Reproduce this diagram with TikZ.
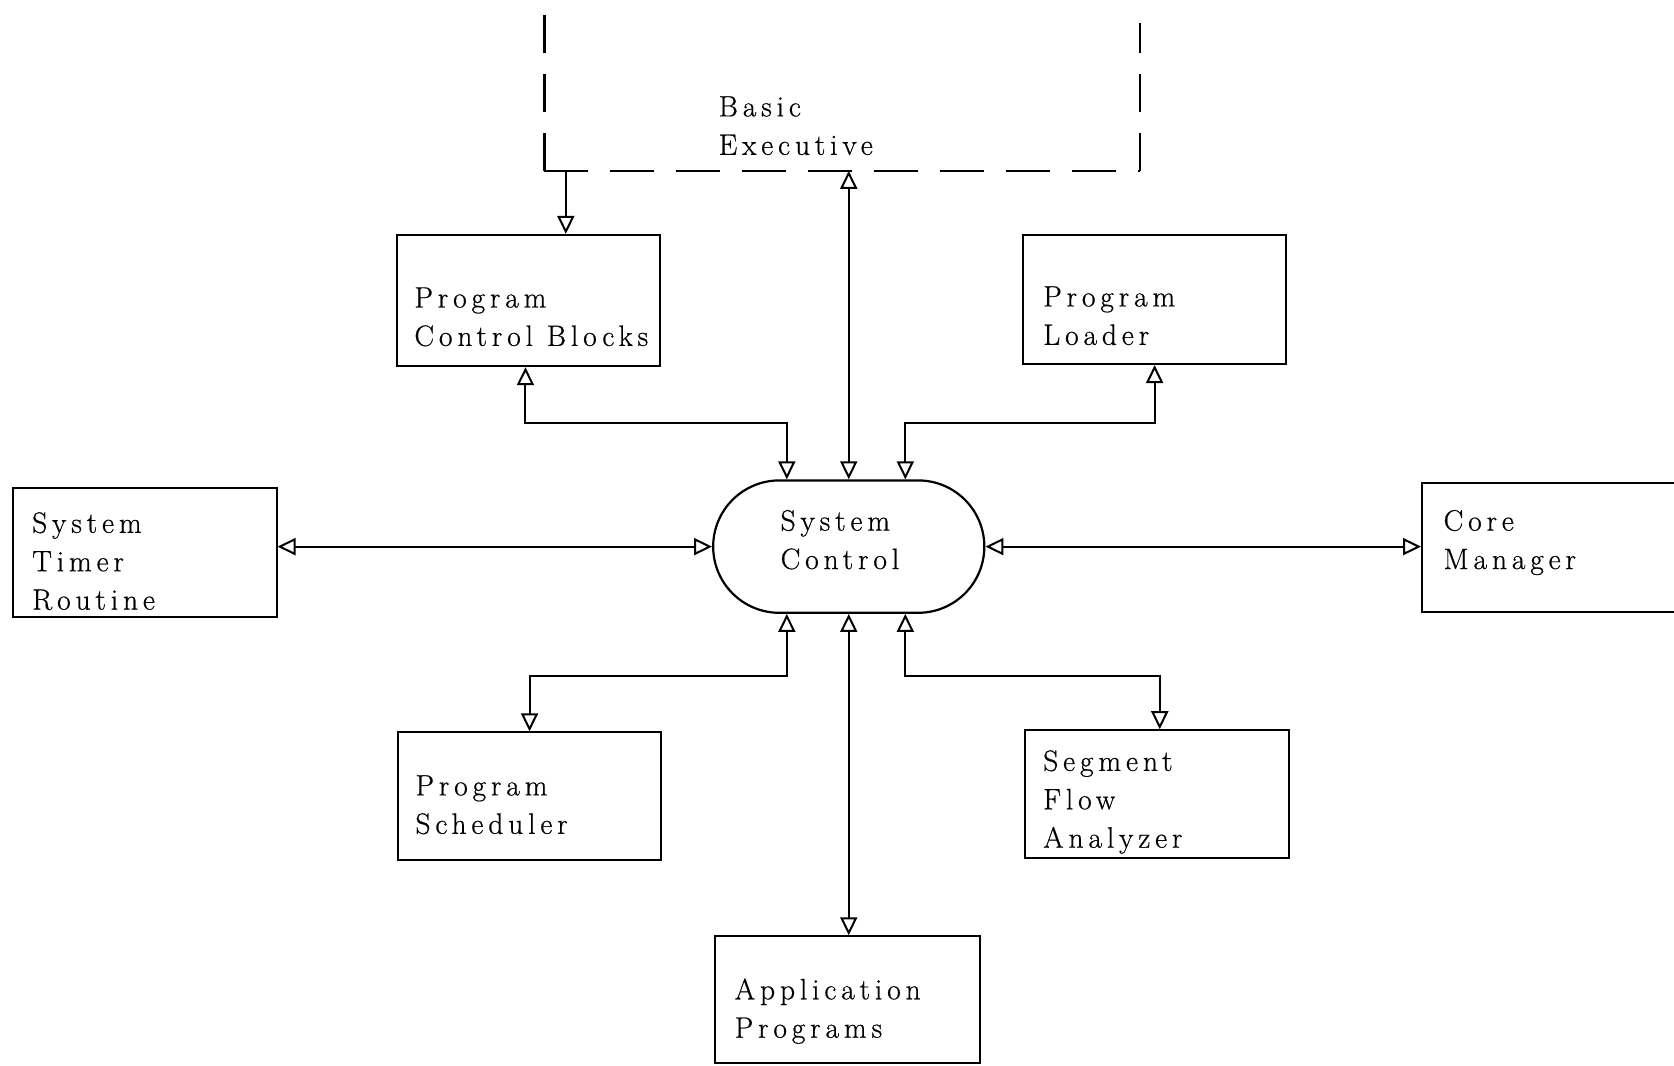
\documentclass[tikz,border=0pt]{standalone}
\usepackage{fontspec}
\setmainfont{Latin Modern Roman}[LetterSpace=16.5,FakeBold=0.6]
\usetikzlibrary{arrows.meta,shapes.misc,fit,calc}

\begin{document}
\begin{tikzpicture}[x=1.0676pt,y=-1.0676pt,
  >={Triangle[open,length=18pt,width=17pt]},
  wire/.style={line width=2pt},
  blk/.style={draw,line width=2pt,inner sep=0pt,rectangle},
  ctl/.style={draw,line width=2.2pt,inner sep=0pt,rounded rectangle},
  lbl/.style={inner sep=0pt,anchor=base west,align=left,
              font=\fontsize{29.5}{38.4}\selectfont},
  vdash/.style={line width=2.3pt,dash pattern=on 38pt off 21pt},
  hdash/.style={line width=2.3pt,dash pattern=on 44pt off 22pt}]
\useasboundingbox (0,0) rectangle (1568,998);

% Basic Executive: open-topped dashed frame
\coordinate (be-bl) at (510,160);
\coordinate (be-br) at (1068,160);
\coordinate (be-tl) at (510,9);
\coordinate (be-tr) at (1068,22);
\draw[vdash] (be-bl) -- (be-tl);
\draw[vdash] (be-br) -- (be-tr);
\draw[hdash] (be-bl) -- (be-br);
% label anchors sit on the baseline of the last line
\node[lbl] (be-txt) at (673,145) {Basic\\Executive};

% blocks
\node[blk, fit={(372,220) (618,343)}] (pcb) {};
\node[blk, fit={(958,220) (1205,341)}] (pl) {};
\node[ctl, fit={(730,450) (860,574)}] (sc) {};
\node[blk, fit={(12,457) (259,578)}] (str) {};
\node[blk, fit={(1332,452) (1600,573)}] (cm) {};
\node[blk, fit={(373,686) (619,806)}] (ps) {};
\node[blk, fit={(960,684) (1207,804)}] (sfa) {};
\node[blk, fit={(670,877) (918,996)}] (ap) {};

% labels
\node[lbl] (pcb-txt) at (388,324) {Program\\Control Blocks};
\node[lbl] (pl-txt) at (977,323) {Program\\Loader};
\node[lbl] (sc-txt) at (731,533) {System\\Control};
\node[lbl] (str-txt) at (30,571) {System\\Timer\\Routine};
\node[lbl] (cm-txt) at (1352,533) {Core\\Manager};
\node[lbl] (ps-txt) at (389,781) {Program\\Scheduler};
\node[lbl] (sfa-txt) at (977,794) {Segment\\Flow\\Analyzer};
\node[lbl] (ap-txt) at (688,972) {Application\\Programs};

% attachment points on System Control
\coordinate (sc-nl) at ($(sc.north)+(-58,0)$);
\coordinate (sc-nr) at ($(sc.north)+(53,0)$);
\coordinate (sc-sl) at ($(sc.south)+(-58,0)$);
\coordinate (sc-sr) at ($(sc.south)+(53,0)$);
\coordinate (be-out) at ($(be-bl)+(20,0)$);

% connectors
\draw[wire,->] (be-out) -- (be-out |- pcb.north);
\draw[wire,<->] (sc.north) -- (sc.north |- be-bl);
\draw[wire,<->] ([xshift=-3pt]pcb.south) |- ($(sc-nl)+(0,-53)$) -- (sc-nl);
\draw[wire,<->] (pl.south) |- ($(sc-nr)+(0,-53)$) -- (sc-nr);
\draw[wire,<->] (sc.west) -- (sc.west -| str.east);
\draw[wire,<->] (sc.east) -- (sc.east -| cm.west);
\draw[wire,<->] (sc-sl) -- ($(sc-sl)+(0,58)$) -| (ps.north);
\draw[wire,<->] (sc-sr) -- ($(sc-sr)+(0,58)$) -| ([xshift=3pt]sfa.north);
\draw[wire,<->] (sc.south) -- (sc.south |- ap.north);
\end{tikzpicture}
\end{document}
